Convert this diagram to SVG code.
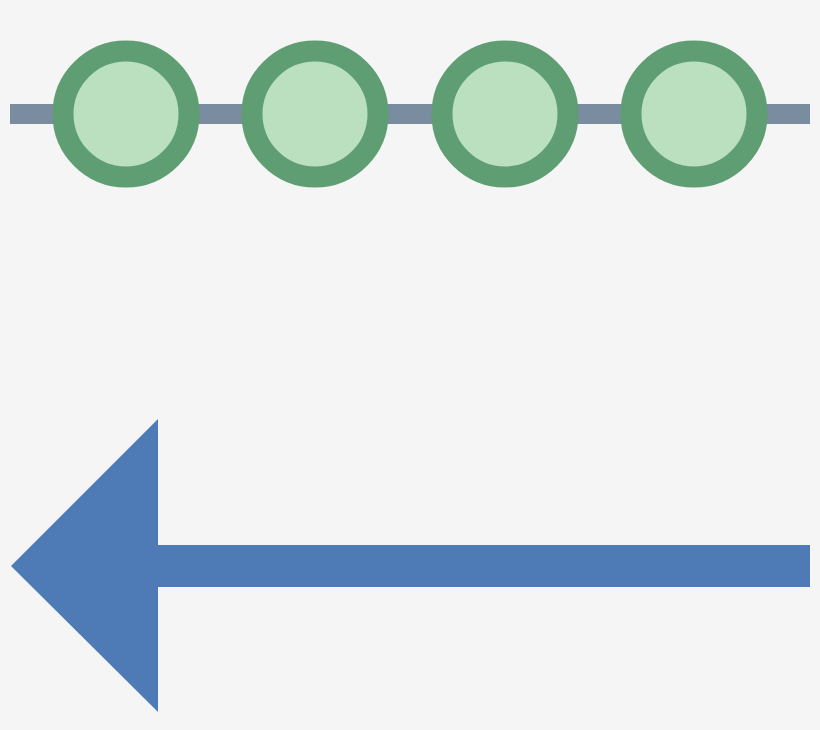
<svg xmlns="http://www.w3.org/2000/svg" width="820" height="730" viewBox="0 0 820 730">
<style>.c{fill:#bbe0bf;stroke:#5e9e72;stroke-width:21}</style>
<rect width="820" height="730" fill="#f5f5f5"/>
<rect x="10" y="104" width="800" height="20" fill="#7a8ca0"/>
<g id="n1"><circle class="c" cx="126" cy="114" r="63"/></g>
<g id="n2"><circle class="c" cx="315" cy="114" r="63"/></g>
<g id="n3"><circle class="c" cx="505" cy="114" r="63"/></g>
<g id="n4"><circle class="c" cx="694" cy="114" r="63"/></g>
<g id="arrow" fill="#4e7ab5">
<rect x="150" y="545" width="660" height="42"/>
<polygon points="158,419 158,712 11,566"/>
</g>
</svg>
